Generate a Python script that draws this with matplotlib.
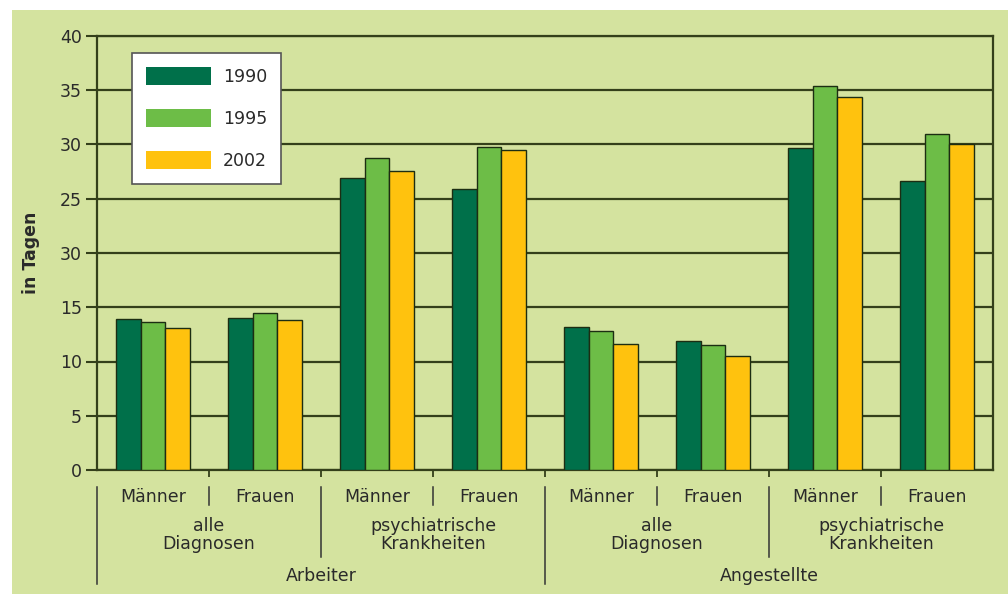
import numpy as np
import matplotlib
matplotlib.use('Agg')
import matplotlib.pyplot as plt
from matplotlib.patches import Rectangle

# Daten (Tage je Fall)
years = ['1990', '1995', '2002']
sub_labels = ['Männer', 'Frauen'] * 4
diag_labels = ['alle\nDiagnosen', 'psychiatrische\nKrankheiten'] * 2
group_labels = ['Arbeiter', 'Angestellte']
v1990 = [13.9, 14.0, 26.9, 25.9, 13.2, 11.9, 29.7, 26.6]
v1995 = [13.6, 14.5, 28.8, 29.8, 12.8, 11.5, 35.4, 31.0]
v2002 = [13.1, 13.8, 27.6, 29.5, 11.6, 10.5, 34.4, 30.0]
ytick_vals = [0, 5, 10, 15, 20, 25, 30, 35, 40]
ytick_labels = ['0', '5', '10', '15', '30', '25', '30', '35', '40']

colors = ['#00704a', '#6dbd47', '#ffc20e']
bg = '#d4e39f'
dark = '#34401a'
txt = '#2a2a2a'

plt.rcParams['font.family'] = ['DejaVu Sans']

fig = plt.figure(figsize=(10.08, 5.94), dpi=100)
fig.patch.set_facecolor('white')
# gruener Hintergrund
fig.patches.append(Rectangle((12 / 1008, 0), 1 - 12 / 1008, 1 - 10 / 594,
                             transform=fig.transFigure, facecolor=bg,
                             edgecolor='none', zorder=-10))

ax = fig.add_axes([97 / 1008, 124 / 594, 896 / 1008, 434 / 594])
ax.set_facecolor(bg)

x = np.arange(len(v1990))
w = 0.223
for i, (vals, c, lab) in enumerate(zip([v1990, v1995, v2002], colors, years)):
    ax.bar(x + (i - 1) * w, vals, w, color=c, edgecolor='#1c2d12',
           linewidth=1.0, label=lab, zorder=3)

ax.set_xlim(-0.5, 7.5)
ax.set_ylim(0, 40)
ax.set_yticks(ytick_vals)
ax.set_yticklabels(ytick_labels, fontsize=12.5, color=txt)
ax.yaxis.grid(True, color=dark, linewidth=1.6, zorder=1)
ax.set_axisbelow(True)
ax.tick_params(axis='y', length=8, width=1.5, color=dark, pad=3)
ax.set_xticks(np.arange(0.5, 7.5, 1))
ax.set_xticklabels([])
ax.tick_params(axis='x', length=5, width=1.3, color=dark)
for s in ax.spines.values():
    s.set_color(dark)
    s.set_linewidth(1.6)

ax.set_ylabel('in Tagen', fontsize=12.5, fontweight='bold', color=txt,
              labelpad=14)

# Achsenbeschriftung in Ebenen
tr = ax.get_xaxis_transform()
def px(y):
    return (470 - y) / 434

for i, lab in enumerate(sub_labels):
    ax.text(i, px(497), lab, transform=tr, ha='center', va='center',
            fontsize=12.5, color=txt)
for i, lab in enumerate(diag_labels):
    ax.text(2 * i + 0.5, px(535), lab, transform=tr, ha='center',
            va='center', fontsize=12.5, color=txt, linespacing=1.0)
for i, lab in enumerate(group_labels):
    ax.text(4 * i + 1.5, px(576), lab, transform=tr, ha='center',
            va='center', fontsize=12.5, color=txt)

for b in range(8):
    xb = b - 0.5
    if b % 4 == 0:
        y2 = 584
    elif b % 2 == 0:
        y2 = 557
    else:
        y2 = 505
    ax.plot([xb, xb], [px(487), px(y2)], transform=tr, color='#333333',
            linewidth=1.1, clip_on=False)

leg = ax.legend(loc='upper left', bbox_to_anchor=(35 / 896, 1 - 17 / 434),
                fontsize=12.5, frameon=True, fancybox=False, framealpha=1,
                handlelength=3.75, handleheight=1.2, handletextpad=0.7,
                labelspacing=1.35, borderpad=0.8, borderaxespad=0)
leg.get_frame().set_facecolor('white')
leg.get_frame().set_edgecolor('#555555')
leg.get_frame().set_linewidth(1.2)
for h in leg.legend_handles:
    h.set_edgecolor('none')
for t in leg.get_texts():
    t.set_color(txt)

plt.savefig('out.png', dpi=100, facecolor=fig.get_facecolor())
